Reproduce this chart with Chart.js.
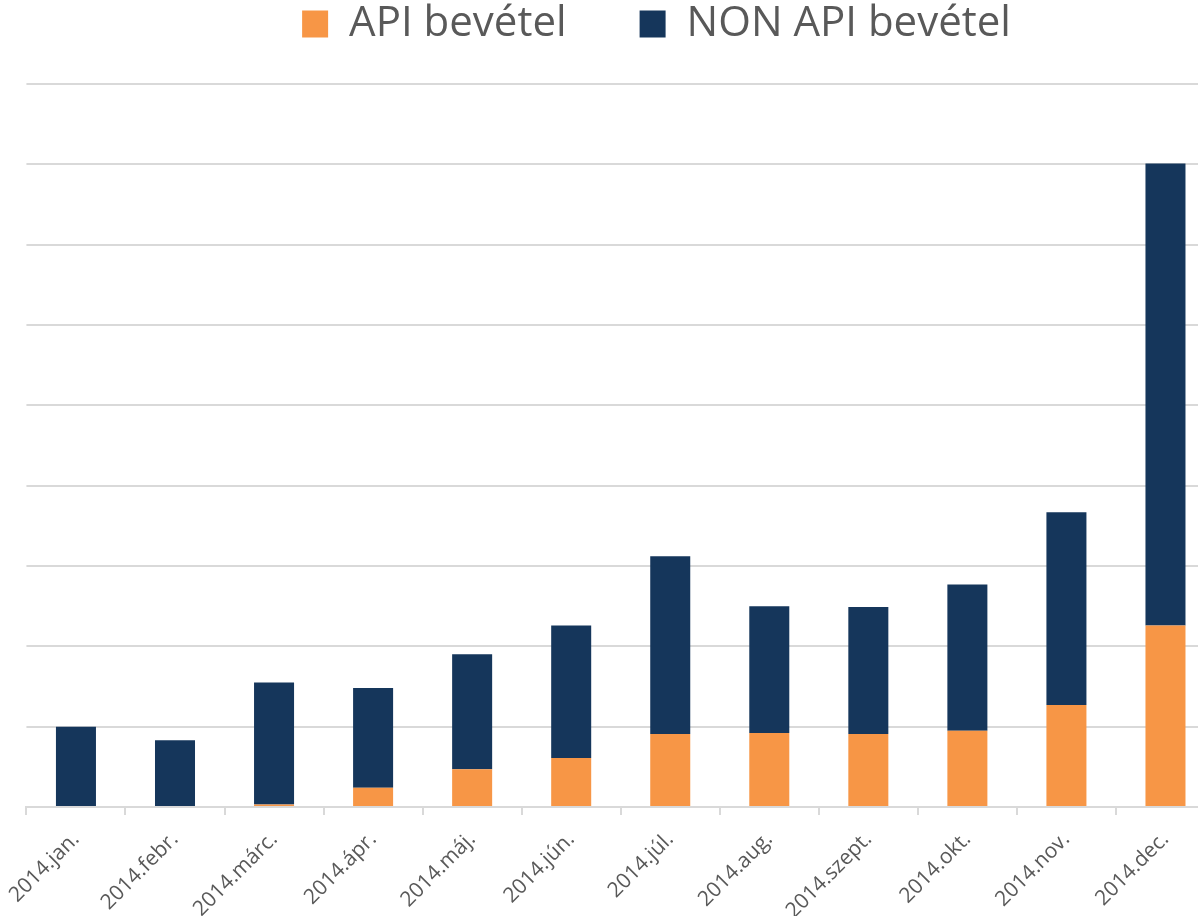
<!DOCTYPE html>
<html>
<head>
<meta charset="utf-8">
<script src="https://cdn.jsdelivr.net/npm/chart.js@4.4.1/dist/chart.umd.min.js"></script>
<style>
  html, body { margin: 0; padding: 0; background: #ffffff; overflow: hidden; }
  #wrap { width: 1198px; height: 916px; overflow: hidden; position: relative; }
  canvas { display: block; }
</style>
</head>
<body>
<div id="wrap"><canvas id="c" width="1287" height="916"></canvas></div>
<script>
const categories = ['2014.jan.', '2014.febr.', '2014.márc.', '2014.ápr.', '2014.máj.', '2014.jún.', '2014.júl.', '2014.aug.', '2014.szept.', '2014.okt.', '2014.nov.', '2014.dec.'];
const apiRevenue = [0, 0, 0.03, 0.24, 0.47, 0.61, 0.91, 0.92, 0.91, 0.95, 1.27, 2.26];
const nonApiRevenue = [1.00, 0.83, 1.52, 1.24, 1.43, 1.65, 2.21, 1.58, 1.58, 1.82, 2.40, 5.75];
const seriesNames = ['API bevétel', 'NON API bevétel'];
const seriesColors = ['#F79646', '#15365B'];

const FONT = "'Open Sans', 'Liberation Sans', sans-serif";

new Chart(document.getElementById('c'), {
  type: 'bar',
  data: {
    labels: categories,
    datasets: [
      { label: seriesNames[0], data: apiRevenue, backgroundColor: seriesColors[0], borderWidth: 0,
        categoryPercentage: 1.0, barPercentage: 0.404 },
      { label: seriesNames[1], data: nonApiRevenue, backgroundColor: seriesColors[1], borderWidth: 0,
        categoryPercentage: 1.0, barPercentage: 0.404 }
    ]
  },
  options: {
    responsive: false,
    animation: false,
    devicePixelRatio: 1,
    layout: { padding: { left: 26, right: 0, top: 0, bottom: 0 } },
    plugins: {
      tooltip: { enabled: false },
      legend: {
        position: 'top',
        labels: {
          font: { family: FONT, size: 42 },
          color: '#595959',
          boxWidth: 26,
          boxHeight: 27,
          padding: 3,
          generateLabels: (chart) => {
            const items = Chart.defaults.plugins.legend.labels.generateLabels(chart);
            items.forEach((it, i) => {
              it.lineWidth = 0;
              if (i === 0) it.text = it.text + '\u2003\u2002\u2006';
            });
            return items;
          }
        }
      }
    },
    scales: {
      x: {
        stacked: true,
        offset: true,
        grid: { display: true, drawOnChartArea: false, drawTicks: true, tickLength: 8, color: '#d9d9d9', lineWidth: 2, offset: true },
        border: { display: true, color: '#d9d9d9', width: 2 },
        ticks: {
          autoSkip: false, maxRotation: 45, minRotation: 45, padding: 12,
          color: '#595959', font: { family: FONT, size: 21 }
        },
        afterFit: (s) => { s.height = 109; }
      },
      y: {
        stacked: true,
        position: 'right',
        min: 0,
        max: 9.36,
        afterBuildTicks: (s) => { s.ticks = s.ticks.filter(t => t.value <= 9.0001); },
        ticks: { display: false, stepSize: 1 },
        grid: { color: '#d9d9d9', lineWidth: 2, drawTicks: false },
        border: { display: false },
        afterFit: (s) => { s.width = 72; }
      }
    }
  }
});
</script>
</body>
</html>
